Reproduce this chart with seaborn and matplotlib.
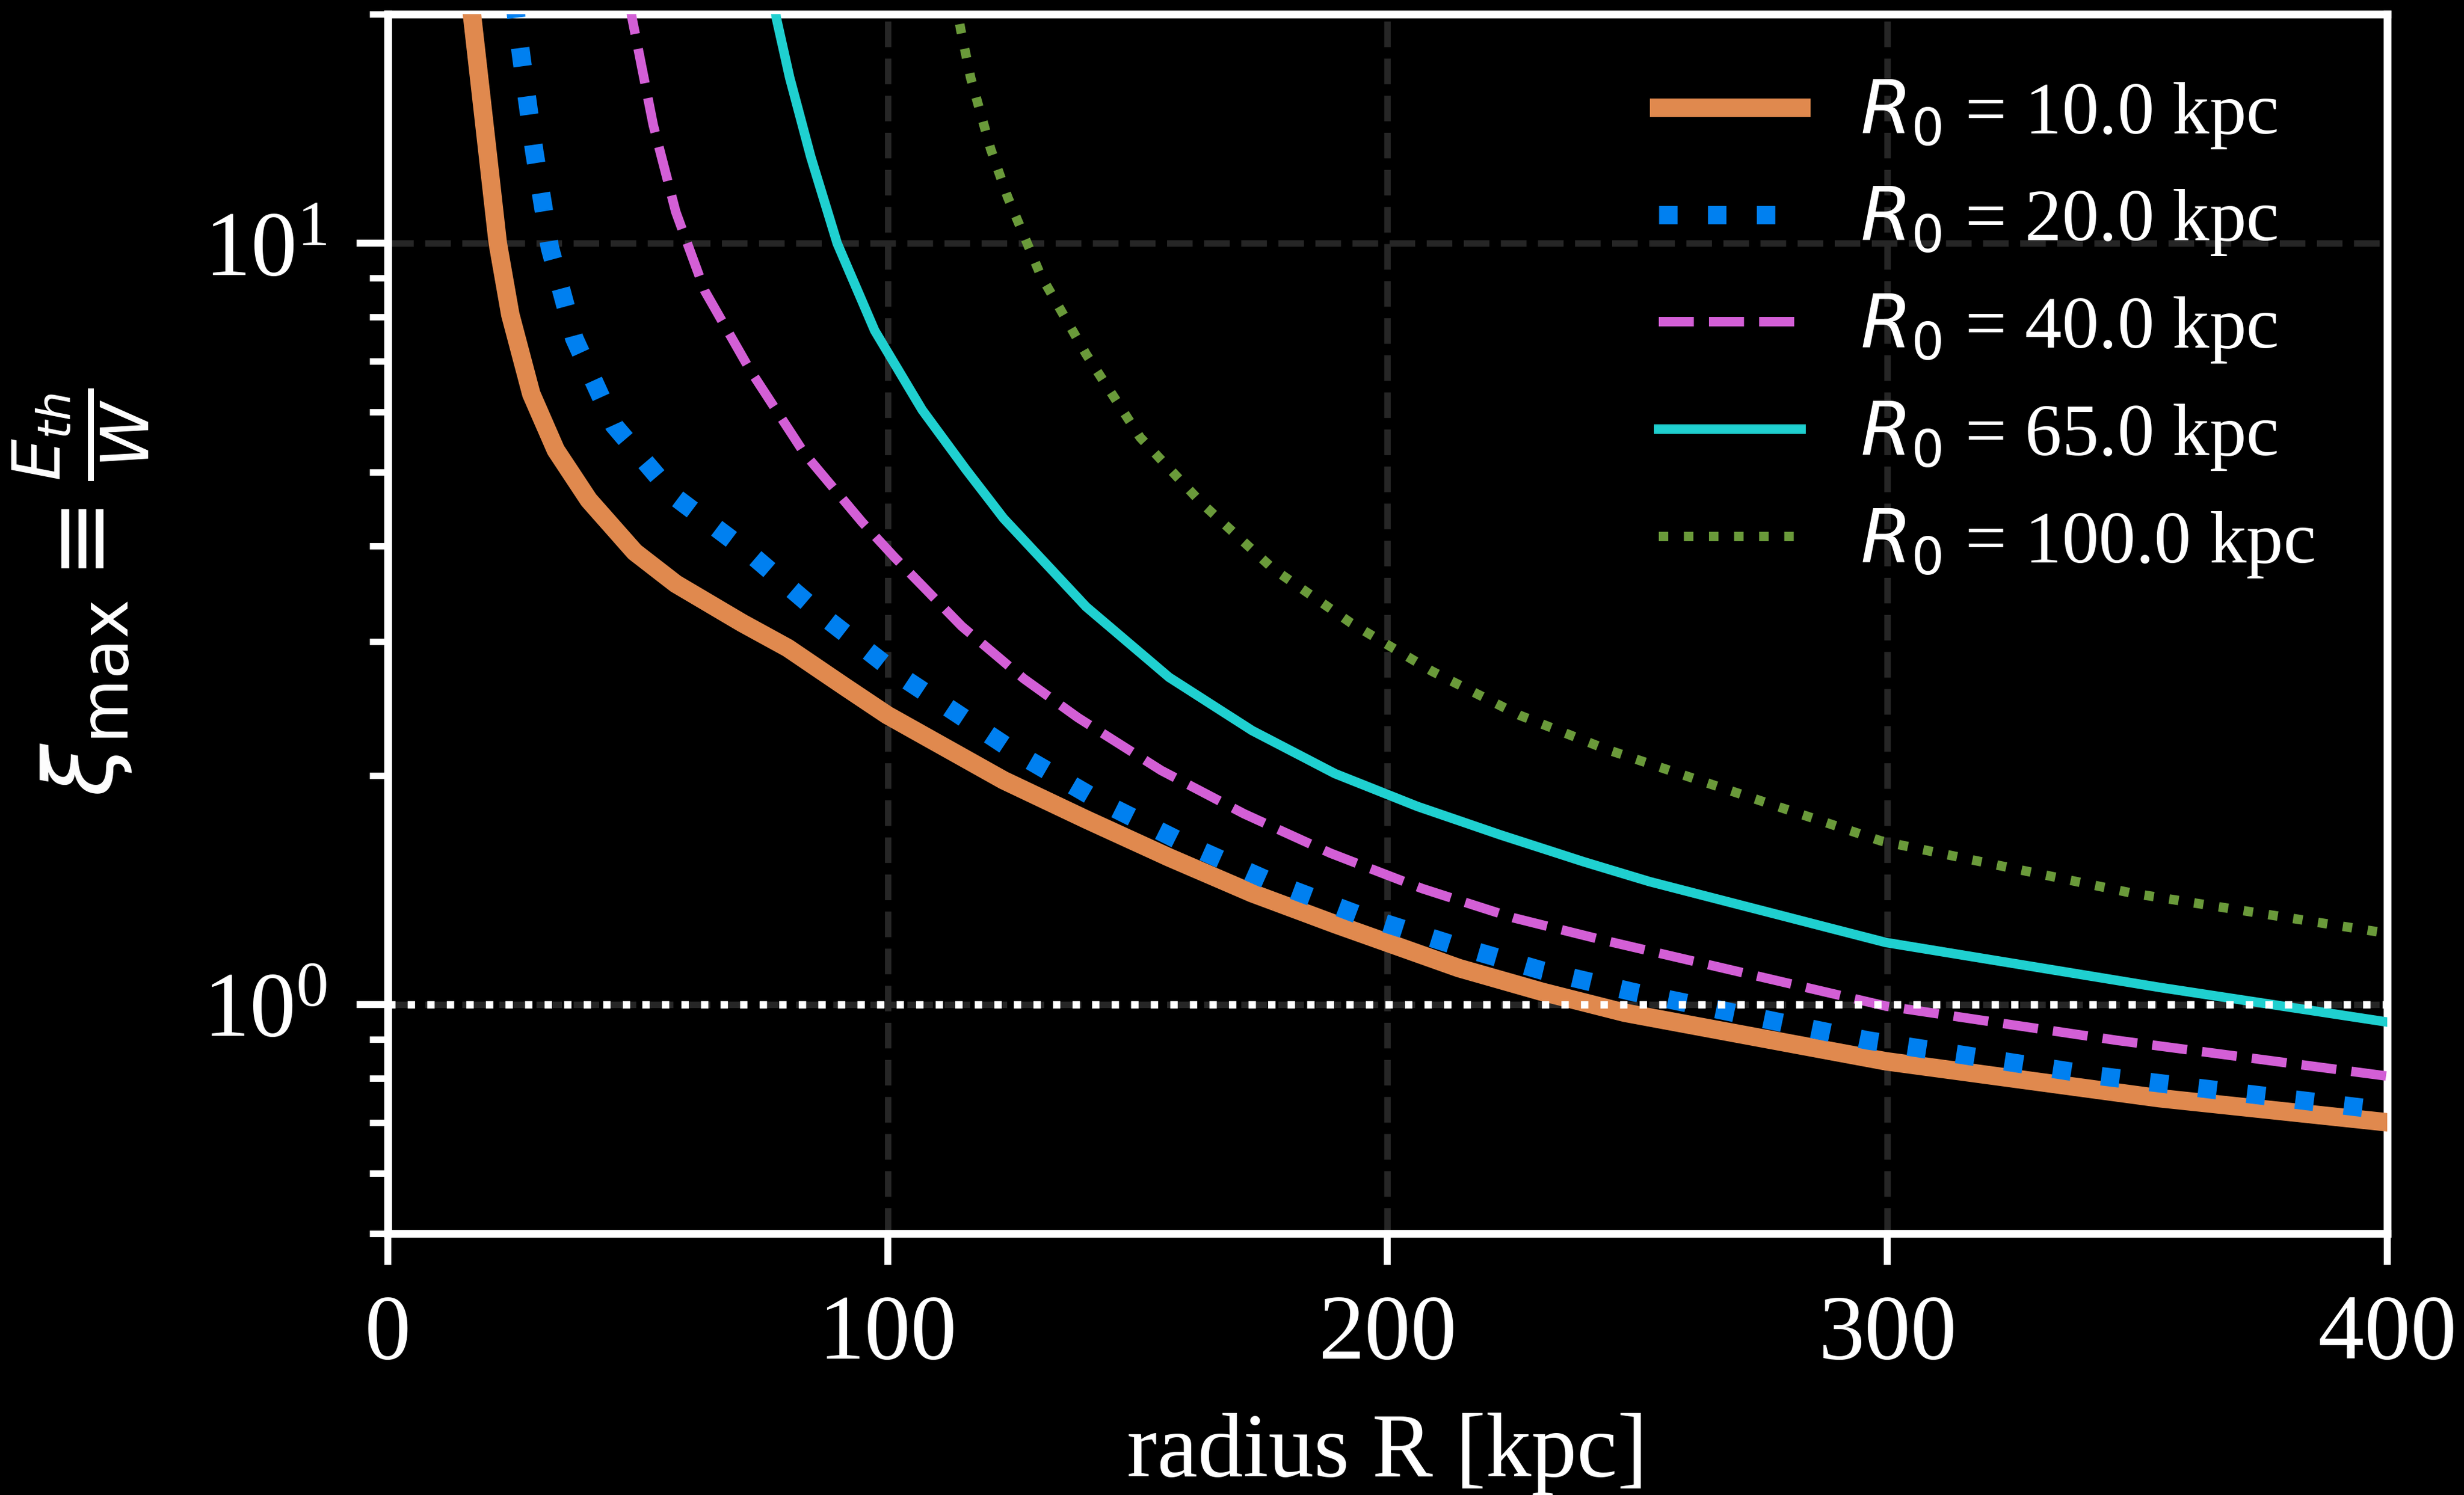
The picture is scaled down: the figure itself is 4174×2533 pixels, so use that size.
import numpy as np
import pandas as pd
import matplotlib
matplotlib.use("Agg")
import matplotlib.pyplot as plt
import seaborn as sns
from matplotlib.ticker import LogLocator, NullFormatter, FixedLocator

# ---------------- data ----------------
R0_values = [10.0, 20.0, 40.0, 65.0, 100.0]

r_10 = [15.5, 16.9, 22.0, 24.5, 28.7, 33.6, 40.2, 49.4, 57.6, 70.9, 80.0, 91.6, 99.9,
        123.2, 139.7, 156.3, 172.9, 189.5, 200.0, 214.3, 230.9, 247.5, 299.7, 354.4, 400.0]
xi_10 = [24.0, 19.8, 10.0, 8.06, 6.34, 5.35, 4.60, 3.93, 3.57, 3.17, 2.94, 2.61, 2.40,
         1.97, 1.75, 1.56, 1.40, 1.275, 1.205, 1.116, 1.039, 0.975, 0.842, 0.753, 0.700]

r_20 = [24.5, 25.7, 26.8, 29.3, 32.4, 37.3, 45.2, 57.5, 72.1, 87.0, 102.2, 125.8, 142.4,
        159.2, 176.6, 194.4, 212.7, 230.9, 249.2, 296.0, 342.6, 400.0]
xi_20 = [24.0, 19.8, 17.4, 13.2, 9.88, 7.50, 5.77, 4.64, 3.93, 3.24, 2.71, 2.14, 1.85,
         1.63, 1.45, 1.31, 1.20, 1.108, 1.038, 0.897, 0.805, 0.725]

r_40 = [47.6, 48.8, 53.1, 57.6, 63.4, 72.5, 83.3, 94.9, 101.5, 114.8, 127.2, 138.1,
        154.7, 171.3, 188.6, 206.9, 225.1, 243.3, 299.7, 345.9, 400.0]
xi_40 = [23.0, 19.85, 14.3, 11.0, 8.66, 6.81, 5.30, 4.30, 3.86, 3.14, 2.68, 2.38,
         2.03, 1.78, 1.58, 1.42, 1.30, 1.214, 0.995, 0.897, 0.805]

r_65 = [76.5, 77.7, 80.4, 84.6, 89.9, 97.4, 106.9, 115.6, 123.2, 139.7, 156.3, 172.9,
        189.5, 206.0, 222.6, 239.2, 252.4, 299.7, 354.4, 400.0]
xi_65 = [23.0, 19.8, 16.5, 13.0, 10.0, 7.68, 6.04, 5.05, 4.35, 3.33, 2.69, 2.29,
         2.01, 1.82, 1.67, 1.54, 1.45, 1.206, 1.053, 0.948]

r_100 = [113.5, 114.6, 116.6, 120.6, 124.0, 130.6, 139.7, 150.5, 162.9, 177.0, 192.7,
         208.9, 226.3, 244.1, 298.7, 349.0, 400.0]
xi_100 = [21.0, 19.1, 16.5, 13.3, 11.5, 9.08, 7.15, 5.56, 4.55, 3.74, 3.17,
          2.74, 2.40, 2.16, 1.64, 1.40, 1.24]

x_ticks = [0, 100, 200, 300, 400]

# ---------------- style ----------------
sns.set_style("ticks")
plt.rcParams.update({
    "font.family": ["Liberation Serif", "DejaVu Sans"],
    "mathtext.fontset": "dejavusans",
    "figure.facecolor": "black",
    "axes.facecolor": "black",
    "savefig.facecolor": "black",
    "text.color": "white",
    "axes.labelcolor": "white",
    "xtick.color": "white",
    "ytick.color": "white",
    "axes.edgecolor": "white",
    "lines.solid_capstyle": "projecting",
    "lines.dash_capstyle": "butt",
})

fig = plt.figure(figsize=(4174 / 300, 2533 / 300), dpi=300)
ax = fig.add_axes([0.15740, 0.17489, 0.81145, 0.81563])

series = [
    (r_10, xi_10, "#E0894E", 7.5, "-"),
    (r_20, xi_20, "#0080F0", 7.5, ":"),
    (r_40, xi_40, "#D35FD6", 3.85, "--"),
    (r_65, xi_65, "#1FD0D0", 3.85, "-"),
    (r_100, xi_100, "#6A9A3A", 3.85, ":"),
]
for (r, xi, col, lw, ls), R0 in zip(series, R0_values):
    df = pd.DataFrame({"R": r, "xi": xi})
    sns.lineplot(data=df, x="R", y="xi", ax=ax, color=col, lw=lw, linestyle=ls,
                 label=rf"$R_0$ = {R0:.1f} kpc", zorder=3)

ax.axhline(1.0, color="white", lw=3.0, ls=":", zorder=4)

ax.set_yscale("log")
ax.set_xlim(0, 400)
ax.set_ylim(0.5, 20)
ax.xaxis.set_major_locator(FixedLocator(x_ticks))
ax.yaxis.set_major_locator(LogLocator(base=10))
ax.yaxis.set_minor_locator(LogLocator(base=10, subs=np.arange(2, 10)))
ax.yaxis.set_minor_formatter(NullFormatter())

ax.grid(True, which="major", color="#262626", lw=2.6, ls=(0, (4, 1.8)), zorder=0)

for sp in ax.spines.values():
    sp.set_visible(True)
    sp.set_linewidth(3.2)
    sp.set_color("white")

ax.tick_params(which="major", direction="out", length=12.8, width=2.8, pad=12,
               labelsize=37.5, colors="white")
ax.tick_params(which="minor", direction="out", length=7.5, width=2.6, colors="white")

ax.set_xlabel("radius R [kpc]", fontsize=37)
ax.set_ylabel(r"$\xi_{\rm max} \equiv \frac{E_{th}}{W}$", fontsize=38.5)
ax.xaxis.set_label_coords(0.5, -0.1467)
ax.yaxis.set_label_coords(-0.1187, 0.5257)

leg = ax.legend(loc="upper right", bbox_to_anchor=(0.9969, 1.0024), frameon=False,
                fontsize=30, handlelength=1.93, handletextpad=0.8, labelspacing=0.47)
for t in leg.get_texts():
    t.set_color("white")

fig.savefig("out.png", dpi=300, facecolor="black")
